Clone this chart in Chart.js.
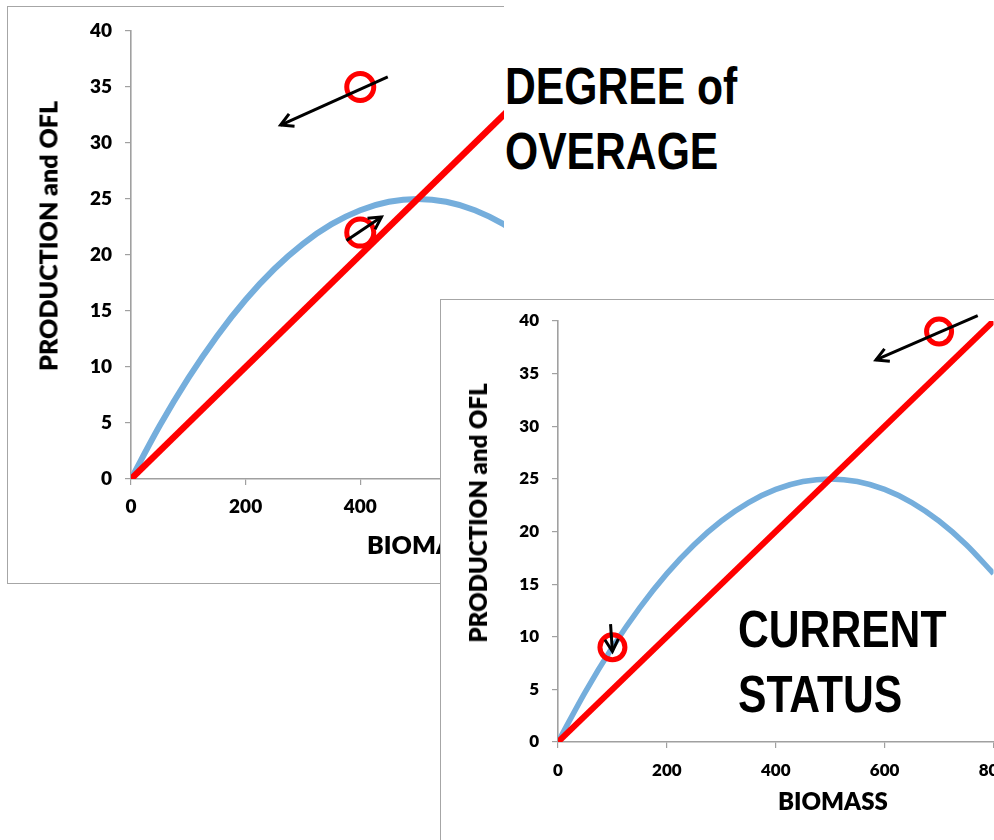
<!DOCTYPE html>
<html>
<head>
<meta charset="utf-8">
<script src="https://cdn.jsdelivr.net/npm/chart.js@4.4.0/dist/chart.umd.min.js"></script>
<style>
html, body { margin: 0; padding: 0; overflow: hidden; background: #fff; width: 994px; height: 840px; }
.panel { position: absolute; background: #fff; overflow: hidden; border: 1px solid #a6a6a6; }
#p1 { left: 7px; top: 6px; width: 496px; height: 576px; border-right: none; }
#p2 { left: 440px; top: 299px; width: 600px; height: 600px; }
.panel canvas { position: absolute; left: 0; top: 0; }
.big { position: absolute; font-family: "Liberation Sans", Arial, sans-serif; font-weight: bold; font-size: 52px;
       line-height: 65px; color: #000; transform: scaleX(0.82); transform-origin: 0 0; white-space: nowrap; }
.ttl { position: absolute; font-family: Lato, sans-serif; font-weight: 800; color: #000; white-space: nowrap; line-height: 1; }
.ytl { transform: translate(-50%, -50%) rotate(-90deg); }
.xtl { transform: translateY(-50%); }
</style>
</head>
<body>
<div class="panel" id="p1">
  <canvas id="c1"></canvas>
  <div class="ttl ytl" style="left:40px;top:229px;font-size:25px">PRODUCTION and OFL</div>
  <div class="ttl xtl" style="left:359px;top:537px;font-size:25px">BIOMASS</div>
</div>
<div class="big" style="left:505px;top:54px">DEGREE of<br>OVERAGE</div>
<div class="panel" id="p2">
  <canvas id="c2"></canvas>
  <div class="ttl ytl" style="left:37px;top:213px;font-size:24px">PRODUCTION and OFL</div>
  <div class="ttl xtl" style="left:337px;top:501px;font-size:24px">BIOMASS</div>
</div>
<div class="big" style="left:738px;top:597px">CURRENT<br>STATUS</div>

<script>
// production curve and OFL line
const biomass = [0, 50, 100, 150, 200, 250, 300, 350, 400, 450, 500, 550, 600, 650, 700, 750, 800];
const production = [0, 4.75, 9, 12.75, 16, 18.75, 21, 22.75, 24, 24.75, 25, 24.75, 24, 22.75, 21, 18.75, 16];
const oflBiomass = [0, 800];
const oflValues = [0, 40];
const xTickValues = [0, 200, 400, 600, 800];
const yTickValues = [0, 5, 10, 15, 20, 25, 30, 35, 40];

// degree of overage panel: circles and arrows
const overageB = [400, 400];
const overageP = [35, 22];
const overageFrom = [[448, 35.9], [376, 21.3]];
const overageTo = [[261, 31.6], [437, 23.4]];

// current status panel
const statusB = [100, 700];
const statusP = [9, 39];
const statusFrom = [[771, 40.5], [96.5, 11.2]];
const statusTo = [[584, 36.3], [100, 8.6]];

const BLUE = 'rgb(117,174,220)';
const RED = '#ff0000';
const AXIS = '#a0a0a0';

function arrows(from, to, width) {
    return {
        id: 'arrows',
        afterDatasetsDraw(chart) {
            const ctx = chart.ctx;
            const xs = chart.scales.x, ys = chart.scales.y;
            ctx.save();
            ctx.strokeStyle = '#000';
            ctx.lineWidth = width;
            ctx.lineJoin = 'miter';
            from.forEach(function(f, i) {
                const fx = xs.getPixelForValue(f[0]), fy = ys.getPixelForValue(f[1]);
                const tx = xs.getPixelForValue(to[i][0]), ty = ys.getPixelForValue(to[i][1]);
                const a = Math.atan2(ty - fy, tx - fx);
                const L = 14;
                ctx.beginPath();
                ctx.moveTo(fx, fy);
                ctx.lineTo(tx, ty);
                ctx.stroke();
                ctx.beginPath();
                ctx.moveTo(tx - L * Math.cos(a - 0.5), ty - L * Math.sin(a - 0.5));
                ctx.lineTo(tx, ty);
                ctx.lineTo(tx - L * Math.cos(a + 0.5), ty - L * Math.sin(a + 0.5));
                ctx.stroke();
            });
            ctx.restore();
        }
    };
}

function makeChart(id, cfg) {
    const canvas = document.getElementById(id);
    canvas.width = cfg.w;
    canvas.height = cfg.h;
    const tickFont = { family: 'Lato', weight: '800', size: cfg.font };
    return new Chart(canvas, {
        type: 'line',
        data: {
            datasets: [{
                data: biomass.map((b, i) => ({ x: b, y: production[i] })),
                borderColor: BLUE,
                borderWidth: cfg.blueW,
                pointRadius: 0,
                cubicInterpolationMode: 'monotone',
                order: 3
            }, {
                data: oflBiomass.map((b, i) => ({ x: b, y: oflValues[i] })),
                borderColor: RED,
                borderWidth: cfg.redW,
                pointRadius: 0,
                order: 2
            }, {
                type: 'scatter',
                data: cfg.ptB.map((b, i) => ({ x: b, y: cfg.ptP[i] })),
                pointRadius: cfg.r,
                pointBorderWidth: 5,
                pointBorderColor: RED,
                pointBackgroundColor: 'rgba(0,0,0,0)',
                clip: false,
                order: 1
            }]
        },
        options: {
            responsive: false,
            animation: false,
            events: [],
            layout: { padding: { top: cfg.padTop, right: cfg.padRight, left: 0, bottom: 0 } },
            plugins: { legend: { display: false }, tooltip: { enabled: false } },
            scales: {
                x: {
                    type: 'linear', min: 0, max: 800,
                    afterBuildTicks: s => { s.ticks = xTickValues.map(v => ({ value: v })); },
                    afterFit: s => { s.height = cfg.xh; s.paddingLeft = 0; s.paddingRight = 0; },
                    ticks: { font: tickFont, color: '#000', padding: cfg.xPad, maxRotation: 0 },
                    grid: { drawOnChartArea: false, tickLength: 6, color: AXIS, lineWidth: 1.2 },
                    border: { color: AXIS, width: 1.6 }
                },
                y: {
                    min: 0, max: 40,
                    afterBuildTicks: s => { s.ticks = yTickValues.map(v => ({ value: v })); },
                    afterFit: s => { s.width = cfg.yw; s.paddingTop = 0; s.paddingBottom = 0; },
                    ticks: { font: tickFont, color: '#000', padding: 13 },
                    grid: { drawOnChartArea: false, tickLength: 6, color: AXIS, lineWidth: 1.2 },
                    border: { color: AXIS, width: 1.6 }
                }
            }
        },
        plugins: [arrows(cfg.from, cfg.to, 3)]
    });
}

makeChart('c1', {
    w: 600, h: 576, yw: 123, xh: 104, padTop: 24, padRight: 12,
    font: 19, xPad: 10, blueW: 6, redW: 6.5, r: 13.5,
    ptB: overageB, ptP: overageP, from: overageFrom, to: overageTo
});
makeChart('c2', {
    w: 600, h: 540, yw: 117, xh: 98, padTop: 21, padRight: 47.5,
    font: 17, xPad: 12, blueW: 5.5, redW: 6, r: 12.5,
    ptB: statusB, ptP: statusP, from: statusFrom, to: statusTo
});
</script>
</body>
</html>
